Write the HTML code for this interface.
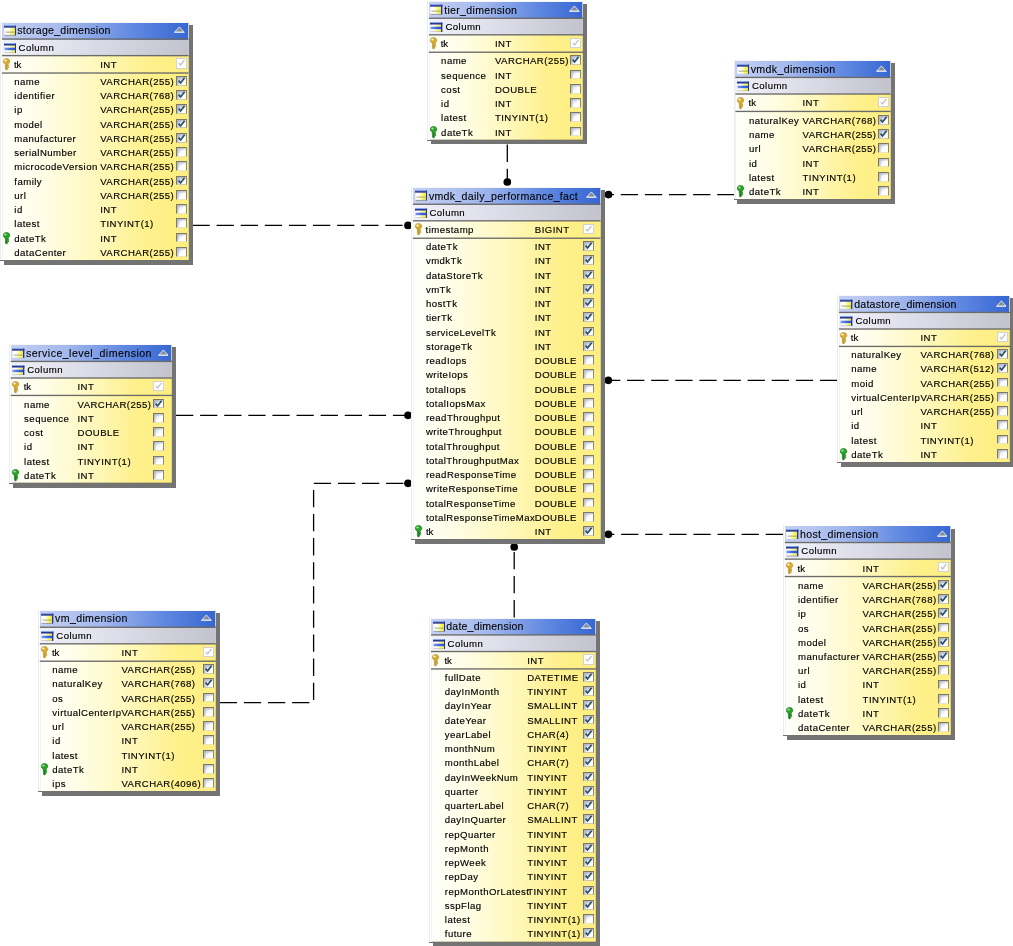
<!DOCTYPE html>
<html lang="en"><head><meta charset="utf-8"><title>vmdk_daily_performance_fact schema</title>
<style>
html,body{margin:0;padding:0;background:#fff;}
body{width:1013px;height:946px;position:relative;overflow:hidden;font-family:"Liberation Sans",sans-serif;font-size:9.6px;letter-spacing:.45px;color:#000;-webkit-text-stroke:.15px #000;}
.s{position:absolute;background:#747474}
.t{position:absolute;will-change:transform;}
.y{position:absolute;right:0;bottom:0;border-top:1px solid #f6f6fa;background:linear-gradient(to right,#fffffc 0%,#fffde6 22%,#fff8bd 50%,#fef08c 78%,#fdee80 100%);box-shadow:inset 1px 0 0 #f3f3f3,inset -1px 0 0 rgba(150,140,90,.25),inset 0 -1px 0 rgba(120,115,80,.35);}
.h,.c,.r,.p{position:absolute;left:0;right:0;white-space:nowrap;}
.h,.c{border-right:1px solid #c9c9d2}
.h{height:17px;background:linear-gradient(to right,#c5d0f2 0%,#a3b8ed 35%,#6189e1 70%,#3767d3 100%);font-size:10.6px;letter-spacing:.27px;-webkit-text-stroke:.1px #000;}
.c{height:16.4px;background:linear-gradient(to right,#f1f1fa 0%,#dddde9 45%,#c3c3cd 100%);}
.p{height:16.4px;}
svg.g{position:absolute;left:0;top:0}
.e{position:absolute;width:1px;background:#ececec}
.f{position:absolute;height:1px;background:#727270}
.r{height:14px;}
.h span,.c span,.p span,.r span{position:absolute;top:0;line-height:14px;height:14px}
.q{letter-spacing:-.05px}
.cb{position:absolute;width:9px;height:7.8px;background:linear-gradient(135deg,#b9bdcc 0%,#eceef4 38%,#fff 58%);box-shadow:inset 1.6px 1.6px 0 rgba(170,174,192,.55);border:1px solid #7d7860;border-bottom-color:#ece6c0;border-right-color:#8f8a6c;}
.cb.on{background:linear-gradient(135deg,#a6b3ca 0%,#dce4ef 45%,#fff 72%);border-bottom-color:#cfcaa8}
.cb.d{top:2.4px;height:8.4px;border-color:#d2d2d2;background:#fff;box-shadow:none}
.cb svg,.k svg,.ic svg,.tri svg{display:block}
.k{position:absolute;left:1.4px;width:8px;height:14px}
.ic{position:absolute;left:1.5px;width:13px;height:11px}
.tri{position:absolute;right:2.6px;top:3.5px;width:10.8px;height:7px}
svg.ln{position:absolute;left:0;top:0}
</style></head>
<body>
<svg class="ln" width="1013" height="946" viewBox="0 0 1013 946">
<defs><linearGradient id="gy" x1="0" x2="1" y1="0" y2="0"><stop offset="0" stop-color="#fff"/><stop offset=".38" stop-color="#fffff0"/><stop offset=".72" stop-color="#f8f65a"/><stop offset="1" stop-color="#eeea40"/></linearGradient><linearGradient id="gb" x1="0" x2="1" y1="0" y2="0"><stop offset="0" stop-color="#7d9bea"/><stop offset=".5" stop-color="#3f68dc"/><stop offset="1" stop-color="#2d55cf"/></linearGradient></defs>
<polyline points="192.5,225.4 408,225.4" fill="none" stroke="#000" stroke-width="1.3" stroke-dasharray="17.3 6.8"/>
<circle cx="408" cy="225.4" r="3.85" fill="#000"/>
<polyline points="507.3,144.6 507.3,182" fill="none" stroke="#000" stroke-width="1.3" stroke-dasharray="17.3 6.8"/>
<circle cx="507.3" cy="182" r="3.85" fill="#000"/>
<polyline points="734.5,194.6 608.5,194.6" fill="none" stroke="#000" stroke-width="1.3" stroke-dasharray="17.3 6.8"/>
<circle cx="608.5" cy="194.6" r="3.85" fill="#000"/>
<polyline points="176,415.3 408,415.3" fill="none" stroke="#000" stroke-width="1.3" stroke-dasharray="17.3 6.8"/>
<circle cx="408" cy="415.3" r="3.85" fill="#000"/>
<polyline points="219.8,702.6 313.6,702.6 313.6,483.3 408,483.3" fill="none" stroke="#000" stroke-width="1.3" stroke-dasharray="17.3 6.8"/>
<circle cx="408" cy="483.3" r="3.85" fill="#000"/>
<polyline points="837.2,380.3 608.3,380.3" fill="none" stroke="#000" stroke-width="1.3" stroke-dasharray="17.3 6.8"/>
<circle cx="608.3" cy="380.3" r="3.85" fill="#000"/>
<polyline points="783,534.3 608.4,534.3" fill="none" stroke="#000" stroke-width="1.3" stroke-dasharray="17.3 6.8"/>
<circle cx="608.4" cy="534.3" r="3.85" fill="#000"/>
<polyline points="514.2,617.4 514.2,547" fill="none" stroke="#000" stroke-width="1.3" stroke-dasharray="17.3 6.8"/>
<circle cx="514.2" cy="547" r="3.85" fill="#000"/>
</svg>
<div class="s" style="left:4px;top:25px;width:188.7px;height:239.8px"></div>
<div class="t" style="left:2px;top:22px;width:186.5px;height:238.5px">
<div class="y" style="left:0px;top:0px"></div>
<div class="e" style="left:-1.9px;top:-0.5px;height:239.3px"></div>
<div class="f" style="left:-1.9px;top:238.1px;width:188.4px"></div>
<div class="h" style="left:0px;top:0.6px"><i class="ic" style="top:2.5px;left:1.5px"><svg width="12.4" height="10.6" viewBox="0 0 12.4 10.6"><rect x="0" y="0" width="12.4" height="10.6" fill="#eef1fb"/><rect x="1" y="2.4" width="10.2" height="7.6" fill="url(#gy)"/><rect x="0" y="0" width="12.4" height="1.3" fill="#86a8ea"/><rect x="0" y="1.2" width="12.4" height="1.4" fill="#172680"/><rect x="11" y="0.6" width="1.4" height="10" fill="#26389c"/><rect x="1.6" y="6.7" width="9.2" height=".8" fill="#8e8e58"/><rect x="0.6" y="9.9" width="11.4" height=".7" fill="#74746a"/></svg></i><span style="left:15.3px;top:0.4px;letter-spacing:0.224px">storage_dimension</span><i class="tri"><svg width="10.8" height="7" viewBox="0 0 10 7" preserveAspectRatio="none"><path d="M5 0.9 L9.3 6.1 L0.7 6.1 Z" fill="#868c94" stroke="#f2f5ff" stroke-width="0.8" stroke-linejoin="miter"/><path d="M0.2 6.3 H9.8" stroke="#fff" stroke-width=".7"/></svg></i></div>
<div class="c" style="left:0px;top:17.5px"><i class="ic" style="top:3.2px;left:1.5px"><svg width="12.4" height="10.4" viewBox="0 0 12.4 10.4"><rect x="0" y="0" width="12.4" height="10.4" fill="#eef1fb"/><rect x="1" y="2.5" width="10.2" height="2.3" fill="url(#gy)"/><rect x="0.6" y="4.7" width="10.8" height="2.8" fill="url(#gb)"/><rect x="1" y="7.4" width="10.2" height="2.4" fill="url(#gy)"/><rect x="0" y="0" width="12.4" height="1.2" fill="#86a8ea"/><rect x="0" y="1.1" width="12.4" height="1.4" fill="#172680"/><rect x="11" y="0.6" width="1.4" height="9.8" fill="#26389c"/><rect x="0.6" y="9.7" width="11.4" height=".7" fill="#74746a"/></svg></i><span style="left:16.5px;top:1.5px">Column</span></div>
<div class="p" style="left:0px;top:34.1px"><i class="k" style="top:2px;left:1.4px"><svg width="7.6" height="12.6" viewBox="0 0 8 14" preserveAspectRatio="none"><path d="M3.6 0.5 C5.8 0.5 7.2 1.9 7.2 3.6 C7.2 5 6.4 6 5.4 6.5 L5.4 8 L6.4 8.7 L5.4 9.6 L6.2 10.5 L5 11.4 L4.2 13.4 L2.6 12.6 L2.4 6.6 C1 6.1 0.3 5 0.3 3.6 C0.3 1.9 1.6 0.5 3.6 0.5 Z" fill="#d9ac2e" stroke="#a8862c" stroke-width=".6"/><ellipse cx="2.6" cy="2.9" rx="1.3" ry="1.1" fill="#fff6d8"/><path d="M3.7 7 L3.7 12.4" stroke="#a8862c" stroke-width=".7" opacity=".7"/></svg></i><span class="q" style="left:11.9px;top:1.9px">tk</span><span style="left:98.2px;top:1.9px">INT</span><i class="cb d" style="left:174px"><svg width="9" height="8" viewBox="0 0 9 8"><path d="M1.8 4 L3.6 6 L7.4 1" fill="none" stroke="#c4c4cc" stroke-width="1.3"/></svg></i></div>
<div class="r" style="top:53px"><span style="left:12.3px">name</span><span style="left:98.2px">VARCHAR(255)</span><i class="cb on" style="left:174px;top:0.95px"><svg width="9" height="8" viewBox="0 0 9 8"><path d="M1.6 3.6 L3.6 6 L7.6 0.8" fill="none" stroke="#2d4f66" stroke-width="1.7"/></svg></i></div>
<div class="r" style="top:67px"><span style="left:12.3px">identifier</span><span style="left:98.2px">VARCHAR(768)</span><i class="cb on" style="left:174px;top:1.2px"><svg width="9" height="8" viewBox="0 0 9 8"><path d="M1.6 3.6 L3.6 6 L7.6 0.8" fill="none" stroke="#2d4f66" stroke-width="1.7"/></svg></i></div>
<div class="r" style="top:81px"><span style="left:12.3px">ip</span><span style="left:98.2px">VARCHAR(255)</span><i class="cb on" style="left:174px;top:1.45px"><svg width="9" height="8" viewBox="0 0 9 8"><path d="M1.6 3.6 L3.6 6 L7.6 0.8" fill="none" stroke="#2d4f66" stroke-width="1.7"/></svg></i></div>
<div class="r" style="top:96px"><span style="left:12.3px">model</span><span style="left:98.2px">VARCHAR(255)</span><i class="cb on" style="left:174px;top:0.7px"><svg width="9" height="8" viewBox="0 0 9 8"><path d="M1.6 3.6 L3.6 6 L7.6 0.8" fill="none" stroke="#2d4f66" stroke-width="1.7"/></svg></i></div>
<div class="r" style="top:110px"><span style="left:12.3px">manufacturer</span><span style="left:98.2px">VARCHAR(255)</span><i class="cb on" style="left:174px;top:0.95px"><svg width="9" height="8" viewBox="0 0 9 8"><path d="M1.6 3.6 L3.6 6 L7.6 0.8" fill="none" stroke="#2d4f66" stroke-width="1.7"/></svg></i></div>
<div class="r" style="top:124px"><span style="left:12.3px">serialNumber</span><span style="left:98.2px">VARCHAR(255)</span><i class="cb" style="left:174px;top:1.2px"></i></div>
<div class="r" style="top:138px"><span style="left:12.3px">microcodeVersion</span><span style="left:98.2px">VARCHAR(255)</span><i class="cb" style="left:174px;top:1.45px"></i></div>
<div class="r" style="top:153px"><span style="left:12.3px">family</span><span style="left:98.2px">VARCHAR(255)</span><i class="cb on" style="left:174px;top:0.7px"><svg width="9" height="8" viewBox="0 0 9 8"><path d="M1.6 3.6 L3.6 6 L7.6 0.8" fill="none" stroke="#2d4f66" stroke-width="1.7"/></svg></i></div>
<div class="r" style="top:167px"><span style="left:12.3px">url</span><span style="left:98.2px">VARCHAR(255)</span><i class="cb" style="left:174px;top:0.95px"></i></div>
<div class="r" style="top:181px"><span style="left:12.3px">id</span><span style="left:98.2px">INT</span><i class="cb" style="left:174px;top:1.2px"></i></div>
<div class="r" style="top:195px"><span style="left:12.3px">latest</span><span style="left:98.2px">TINYINT(1)</span><i class="cb" style="left:174px;top:1.45px"></i></div>
<div class="r" style="top:210px"><i class="k" style="left:1.4px;top:0px"><svg width="7.6" height="12.6" viewBox="0 0 8 14" preserveAspectRatio="none"><path d="M3.6 0.5 C5.8 0.5 7.2 1.9 7.2 3.6 C7.2 5 6.4 6 5.4 6.5 L5.4 8 L6.4 8.7 L5.4 9.6 L6.2 10.5 L5 11.4 L4.2 13.4 L2.6 12.6 L2.4 6.6 C1 6.1 0.3 5 0.3 3.6 C0.3 1.9 1.6 0.5 3.6 0.5 Z" fill="#27a527" stroke="#0a5c10" stroke-width=".6"/><ellipse cx="2.6" cy="2.9" rx="1.3" ry="1.1" fill="#9aec92"/><path d="M3.7 7 L3.7 12.4" stroke="#0a5c10" stroke-width=".7" opacity=".7"/></svg></i><span style="left:12.3px">dateTk</span><span style="left:98.2px">INT</span><i class="cb" style="left:174px;top:0.7px"></i></div>
<div class="r" style="top:224px"><span style="left:12.3px">dataCenter</span><span style="left:98.2px">VARCHAR(255)</span><i class="cb" style="left:174px;top:0.95px"></i></div>
<svg class="g" width="186.5" height="238.5"><rect x="0" y="16.35" width="186.5" height="1.35" fill="#6b6b68"/><rect x="0" y="32.95" width="186.5" height="1.35" fill="#6b6b68"/><rect x="0" y="50.35" width="186.5" height="1.35" fill="#6b6b68"/></svg>
</div>
<div class="s" style="left:430.9px;top:4.2px;width:156.5px;height:140.3px"></div>
<div class="t" style="left:428px;top:1px;width:155.2px;height:139.2px">
<div class="y" style="left:0.9px;top:0.2px"></div>
<div class="e" style="left:-1px;top:-0.3px;height:139.8px"></div>
<div class="f" style="left:-1px;top:138.8px;width:156.2px"></div>
<div class="h" style="left:0.9px;top:0.8px"><i class="ic" style="top:2.5px;left:1.5px"><svg width="12.4" height="10.6" viewBox="0 0 12.4 10.6"><rect x="0" y="0" width="12.4" height="10.6" fill="#eef1fb"/><rect x="1" y="2.4" width="10.2" height="7.6" fill="url(#gy)"/><rect x="0" y="0" width="12.4" height="1.3" fill="#86a8ea"/><rect x="0" y="1.2" width="12.4" height="1.4" fill="#172680"/><rect x="11" y="0.6" width="1.4" height="10" fill="#26389c"/><rect x="1.6" y="6.7" width="9.2" height=".8" fill="#8e8e58"/><rect x="0.6" y="9.9" width="11.4" height=".7" fill="#74746a"/></svg></i><span style="left:15.3px;top:1.2px;letter-spacing:0.3px">tier_dimension</span><i class="tri"><svg width="10.8" height="7" viewBox="0 0 10 7" preserveAspectRatio="none"><path d="M5 0.9 L9.3 6.1 L0.7 6.1 Z" fill="#868c94" stroke="#f2f5ff" stroke-width="0.8" stroke-linejoin="miter"/><path d="M0.2 6.3 H9.8" stroke="#fff" stroke-width=".7"/></svg></i></div>
<div class="c" style="left:0.9px;top:17.7px"><i class="ic" style="top:3.2px;left:1.5px"><svg width="12.4" height="10.4" viewBox="0 0 12.4 10.4"><rect x="0" y="0" width="12.4" height="10.4" fill="#eef1fb"/><rect x="1" y="2.5" width="10.2" height="2.3" fill="url(#gy)"/><rect x="0.6" y="4.7" width="10.8" height="2.8" fill="url(#gb)"/><rect x="1" y="7.4" width="10.2" height="2.4" fill="url(#gy)"/><rect x="0" y="0" width="12.4" height="1.2" fill="#86a8ea"/><rect x="0" y="1.1" width="12.4" height="1.4" fill="#172680"/><rect x="11" y="0.6" width="1.4" height="9.8" fill="#26389c"/><rect x="0.6" y="9.7" width="11.4" height=".7" fill="#74746a"/></svg></i><span style="left:16.5px;top:1.3px">Column</span></div>
<div class="p" style="left:0.9px;top:34.3px"><i class="k" style="top:2px;left:1.4px"><svg width="7.6" height="12.6" viewBox="0 0 8 14" preserveAspectRatio="none"><path d="M3.6 0.5 C5.8 0.5 7.2 1.9 7.2 3.6 C7.2 5 6.4 6 5.4 6.5 L5.4 8 L6.4 8.7 L5.4 9.6 L6.2 10.5 L5 11.4 L4.2 13.4 L2.6 12.6 L2.4 6.6 C1 6.1 0.3 5 0.3 3.6 C0.3 1.9 1.6 0.5 3.6 0.5 Z" fill="#d9ac2e" stroke="#a8862c" stroke-width=".6"/><ellipse cx="2.6" cy="2.9" rx="1.3" ry="1.1" fill="#fff6d8"/><path d="M3.7 7 L3.7 12.4" stroke="#a8862c" stroke-width=".7" opacity=".7"/></svg></i><span class="q" style="left:11.8px;top:1.7px">tk</span><span style="left:66px;top:1.7px">INT</span><i class="cb d" style="left:141.3px"><svg width="9" height="8" viewBox="0 0 9 8"><path d="M1.8 4 L3.6 6 L7.4 1" fill="none" stroke="#c4c4cc" stroke-width="1.3"/></svg></i></div>
<div class="r" style="top:53px"><span style="left:13.1px">name</span><span style="left:66.9px">VARCHAR(255)</span><i class="cb on" style="left:142.2px;top:1.4px"><svg width="9" height="8" viewBox="0 0 9 8"><path d="M1.6 3.6 L3.6 6 L7.6 0.8" fill="none" stroke="#2d4f66" stroke-width="1.7"/></svg></i></div>
<div class="r" style="top:68px"><span style="left:13.1px">sequence</span><span style="left:66.9px">INT</span><i class="cb" style="left:142.2px;top:0.65px"></i></div>
<div class="r" style="top:82px"><span style="left:13.1px">cost</span><span style="left:66.9px">DOUBLE</span><i class="cb" style="left:142.2px;top:0.9px"></i></div>
<div class="r" style="top:96px"><span style="left:13.1px">id</span><span style="left:66.9px">INT</span><i class="cb" style="left:142.2px;top:1.15px"></i></div>
<div class="r" style="top:110px"><span style="left:13.1px">latest</span><span style="left:66.9px">TINYINT(1)</span><i class="cb" style="left:142.2px;top:1.4px"></i></div>
<div class="r" style="top:125px"><i class="k" style="left:2.3px;top:-0.05px"><svg width="7.6" height="12.6" viewBox="0 0 8 14" preserveAspectRatio="none"><path d="M3.6 0.5 C5.8 0.5 7.2 1.9 7.2 3.6 C7.2 5 6.4 6 5.4 6.5 L5.4 8 L6.4 8.7 L5.4 9.6 L6.2 10.5 L5 11.4 L4.2 13.4 L2.6 12.6 L2.4 6.6 C1 6.1 0.3 5 0.3 3.6 C0.3 1.9 1.6 0.5 3.6 0.5 Z" fill="#27a527" stroke="#0a5c10" stroke-width=".6"/><ellipse cx="2.6" cy="2.9" rx="1.3" ry="1.1" fill="#9aec92"/><path d="M3.7 7 L3.7 12.4" stroke="#0a5c10" stroke-width=".7" opacity=".7"/></svg></i><span style="left:13.1px">dateTk</span><span style="left:66.9px">INT</span><i class="cb" style="left:142.2px;top:0.65px"></i></div>
<svg class="g" width="155.2" height="139.2"><rect x="0.9" y="16.55" width="154.3" height="1.35" fill="#6b6b68"/><rect x="0.9" y="33.15" width="154.3" height="1.35" fill="#6b6b68"/><rect x="0.9" y="50.55" width="154.3" height="1.35" fill="#6b6b68"/></svg>
</div>
<div class="s" style="left:737.4px;top:63.4px;width:157.4px;height:140.5px"></div>
<div class="t" style="left:735px;top:60px;width:155.6px;height:139.6px">
<div class="y" style="left:0.4px;top:0.4px"></div>
<div class="e" style="left:-1.5px;top:-0.1px;height:140px"></div>
<div class="f" style="left:-1.5px;top:139.2px;width:157.1px"></div>
<div class="h" style="left:0.4px;top:1px"><i class="ic" style="top:2.5px;left:1.5px"><svg width="12.4" height="10.6" viewBox="0 0 12.4 10.6"><rect x="0" y="0" width="12.4" height="10.6" fill="#eef1fb"/><rect x="1" y="2.4" width="10.2" height="7.6" fill="url(#gy)"/><rect x="0" y="0" width="12.4" height="1.3" fill="#86a8ea"/><rect x="0" y="1.2" width="12.4" height="1.4" fill="#172680"/><rect x="11" y="0.6" width="1.4" height="10" fill="#26389c"/><rect x="1.6" y="6.7" width="9.2" height=".8" fill="#8e8e58"/><rect x="0.6" y="9.9" width="11.4" height=".7" fill="#74746a"/></svg></i><span style="left:15.3px;top:1px;letter-spacing:0.385px">vmdk_dimension</span><i class="tri"><svg width="10.8" height="7" viewBox="0 0 10 7" preserveAspectRatio="none"><path d="M5 0.9 L9.3 6.1 L0.7 6.1 Z" fill="#868c94" stroke="#f2f5ff" stroke-width="0.8" stroke-linejoin="miter"/><path d="M0.2 6.3 H9.8" stroke="#fff" stroke-width=".7"/></svg></i></div>
<div class="c" style="left:0.4px;top:17.9px"><i class="ic" style="top:3.2px;left:1.5px"><svg width="12.4" height="10.4" viewBox="0 0 12.4 10.4"><rect x="0" y="0" width="12.4" height="10.4" fill="#eef1fb"/><rect x="1" y="2.5" width="10.2" height="2.3" fill="url(#gy)"/><rect x="0.6" y="4.7" width="10.8" height="2.8" fill="url(#gb)"/><rect x="1" y="7.4" width="10.2" height="2.4" fill="url(#gy)"/><rect x="0" y="0" width="12.4" height="1.2" fill="#86a8ea"/><rect x="0" y="1.1" width="12.4" height="1.4" fill="#172680"/><rect x="11" y="0.6" width="1.4" height="9.8" fill="#26389c"/><rect x="0.6" y="9.7" width="11.4" height=".7" fill="#74746a"/></svg></i><span style="left:16.5px;top:1.1px">Column</span></div>
<div class="p" style="left:0.4px;top:34.5px"><i class="k" style="top:2px;left:1.4px"><svg width="7.6" height="12.6" viewBox="0 0 8 14" preserveAspectRatio="none"><path d="M3.6 0.5 C5.8 0.5 7.2 1.9 7.2 3.6 C7.2 5 6.4 6 5.4 6.5 L5.4 8 L6.4 8.7 L5.4 9.6 L6.2 10.5 L5 11.4 L4.2 13.4 L2.6 12.6 L2.4 6.6 C1 6.1 0.3 5 0.3 3.6 C0.3 1.9 1.6 0.5 3.6 0.5 Z" fill="#d9ac2e" stroke="#a8862c" stroke-width=".6"/><ellipse cx="2.6" cy="2.9" rx="1.3" ry="1.1" fill="#fff6d8"/><path d="M3.7 7 L3.7 12.4" stroke="#a8862c" stroke-width=".7" opacity=".7"/></svg></i><span class="q" style="left:13.2px;top:1.5px">tk</span><span style="left:67.1px;top:1.5px">INT</span><i class="cb d" style="left:142.7px"><svg width="9" height="8" viewBox="0 0 9 8"><path d="M1.8 4 L3.6 6 L7.4 1" fill="none" stroke="#c4c4cc" stroke-width="1.3"/></svg></i></div>
<div class="r" style="top:54px"><span style="left:14px">naturalKey</span><span style="left:67.5px">VARCHAR(768)</span><i class="cb on" style="left:143.1px;top:0.8px"><svg width="9" height="8" viewBox="0 0 9 8"><path d="M1.6 3.6 L3.6 6 L7.6 0.8" fill="none" stroke="#2d4f66" stroke-width="1.7"/></svg></i></div>
<div class="r" style="top:68px"><span style="left:14px">name</span><span style="left:67.5px">VARCHAR(255)</span><i class="cb on" style="left:143.1px;top:1.05px"><svg width="9" height="8" viewBox="0 0 9 8"><path d="M1.6 3.6 L3.6 6 L7.6 0.8" fill="none" stroke="#2d4f66" stroke-width="1.7"/></svg></i></div>
<div class="r" style="top:82px"><span style="left:14px">url</span><span style="left:67.5px">VARCHAR(255)</span><i class="cb" style="left:143.1px;top:1.3px"></i></div>
<div class="r" style="top:97px"><span style="left:14px">id</span><span style="left:67.5px">INT</span><i class="cb" style="left:143.1px;top:0.55px"></i></div>
<div class="r" style="top:111px"><span style="left:14px">latest</span><span style="left:67.5px">TINYINT(1)</span><i class="cb" style="left:143.1px;top:0.8px"></i></div>
<div class="r" style="top:125px"><i class="k" style="left:1.8px;top:0.35px"><svg width="7.6" height="12.6" viewBox="0 0 8 14" preserveAspectRatio="none"><path d="M3.6 0.5 C5.8 0.5 7.2 1.9 7.2 3.6 C7.2 5 6.4 6 5.4 6.5 L5.4 8 L6.4 8.7 L5.4 9.6 L6.2 10.5 L5 11.4 L4.2 13.4 L2.6 12.6 L2.4 6.6 C1 6.1 0.3 5 0.3 3.6 C0.3 1.9 1.6 0.5 3.6 0.5 Z" fill="#27a527" stroke="#0a5c10" stroke-width=".6"/><ellipse cx="2.6" cy="2.9" rx="1.3" ry="1.1" fill="#9aec92"/><path d="M3.7 7 L3.7 12.4" stroke="#0a5c10" stroke-width=".7" opacity=".7"/></svg></i><span style="left:14px">dateTk</span><span style="left:67.5px">INT</span><i class="cb" style="left:143.1px;top:1.05px"></i></div>
<svg class="g" width="155.6" height="139.6"><rect x="0.4" y="16.75" width="155.2" height="1.35" fill="#6b6b68"/><rect x="0.4" y="33.35" width="155.2" height="1.35" fill="#6b6b68"/><rect x="0.4" y="50.75" width="155.2" height="1.35" fill="#6b6b68"/></svg>
</div>
<div class="s" style="left:414.9px;top:190.2px;width:189.8px;height:353.7px"></div>
<div class="t" style="left:412px;top:187px;width:188.5px;height:352.6px">
<div class="y" style="left:0.9px;top:0.2px"></div>
<div class="e" style="left:-1px;top:-0.3px;height:353.2px"></div>
<div class="f" style="left:-1px;top:352.2px;width:189.5px"></div>
<div class="h" style="left:0.9px;top:0.8px"><i class="ic" style="top:2.5px;left:2.2px"><svg width="12.4" height="10.6" viewBox="0 0 12.4 10.6"><rect x="0" y="0" width="12.4" height="10.6" fill="#eef1fb"/><rect x="1" y="2.4" width="10.2" height="7.6" fill="url(#gy)"/><rect x="0" y="0" width="12.4" height="1.3" fill="#86a8ea"/><rect x="0" y="1.2" width="12.4" height="1.4" fill="#172680"/><rect x="11" y="0.6" width="1.4" height="10" fill="#26389c"/><rect x="1.6" y="6.7" width="9.2" height=".8" fill="#8e8e58"/><rect x="0.6" y="9.9" width="11.4" height=".7" fill="#74746a"/></svg></i><span style="left:16px;top:1.2px;letter-spacing:0.291px">vmdk_daily_performance_fact</span><i class="tri"><svg width="10.8" height="7" viewBox="0 0 10 7" preserveAspectRatio="none"><path d="M5 0.9 L9.3 6.1 L0.7 6.1 Z" fill="#868c94" stroke="#f2f5ff" stroke-width="0.8" stroke-linejoin="miter"/><path d="M0.2 6.3 H9.8" stroke="#fff" stroke-width=".7"/></svg></i></div>
<div class="c" style="left:0.9px;top:17.7px"><i class="ic" style="top:3.2px;left:2.2px"><svg width="12.4" height="10.4" viewBox="0 0 12.4 10.4"><rect x="0" y="0" width="12.4" height="10.4" fill="#eef1fb"/><rect x="1" y="2.5" width="10.2" height="2.3" fill="url(#gy)"/><rect x="0.6" y="4.7" width="10.8" height="2.8" fill="url(#gb)"/><rect x="1" y="7.4" width="10.2" height="2.4" fill="url(#gy)"/><rect x="0" y="0" width="12.4" height="1.2" fill="#86a8ea"/><rect x="0" y="1.1" width="12.4" height="1.4" fill="#172680"/><rect x="11" y="0.6" width="1.4" height="9.8" fill="#26389c"/><rect x="0.6" y="9.7" width="11.4" height=".7" fill="#74746a"/></svg></i><span style="left:16.5px;top:1.3px">Column</span></div>
<div class="p" style="left:0.9px;top:34.3px"><i class="k" style="top:2px;left:2.1px"><svg width="7.6" height="12.6" viewBox="0 0 8 14" preserveAspectRatio="none"><path d="M3.6 0.5 C5.8 0.5 7.2 1.9 7.2 3.6 C7.2 5 6.4 6 5.4 6.5 L5.4 8 L6.4 8.7 L5.4 9.6 L6.2 10.5 L5 11.4 L4.2 13.4 L2.6 12.6 L2.4 6.6 C1 6.1 0.3 5 0.3 3.6 C0.3 1.9 1.6 0.5 3.6 0.5 Z" fill="#d9ac2e" stroke="#a8862c" stroke-width=".6"/><ellipse cx="2.6" cy="2.9" rx="1.3" ry="1.1" fill="#fff6d8"/><path d="M3.7 7 L3.7 12.4" stroke="#a8862c" stroke-width=".7" opacity=".7"/></svg></i><span style="left:12.7px;top:1.7px">timestamp</span><span style="left:121.9px;top:1.7px">BIGINT</span><i class="cb d" style="left:170.2px"><svg width="9" height="8" viewBox="0 0 9 8"><path d="M1.8 4 L3.6 6 L7.4 1" fill="none" stroke="#c4c4cc" stroke-width="1.3"/></svg></i></div>
<div class="r" style="top:53px"><span style="left:13.9px">dateTk</span><span style="left:122.8px">INT</span><i class="cb on" style="left:171.1px;top:1.05px"><svg width="9" height="8" viewBox="0 0 9 8"><path d="M1.6 3.6 L3.6 6 L7.6 0.8" fill="none" stroke="#2d4f66" stroke-width="1.7"/></svg></i></div>
<div class="r" style="top:67px"><span style="left:13.9px">vmdkTk</span><span style="left:122.8px">INT</span><i class="cb on" style="left:171.1px;top:1.3px"><svg width="9" height="8" viewBox="0 0 9 8"><path d="M1.6 3.6 L3.6 6 L7.6 0.8" fill="none" stroke="#2d4f66" stroke-width="1.7"/></svg></i></div>
<div class="r" style="top:82px"><span style="left:13.9px">dataStoreTk</span><span style="left:122.8px">INT</span><i class="cb on" style="left:171.1px;top:0.55px"><svg width="9" height="8" viewBox="0 0 9 8"><path d="M1.6 3.6 L3.6 6 L7.6 0.8" fill="none" stroke="#2d4f66" stroke-width="1.7"/></svg></i></div>
<div class="r" style="top:96px"><span style="left:13.9px">vmTk</span><span style="left:122.8px">INT</span><i class="cb on" style="left:171.1px;top:0.8px"><svg width="9" height="8" viewBox="0 0 9 8"><path d="M1.6 3.6 L3.6 6 L7.6 0.8" fill="none" stroke="#2d4f66" stroke-width="1.7"/></svg></i></div>
<div class="r" style="top:110px"><span style="left:13.9px">hostTk</span><span style="left:122.8px">INT</span><i class="cb on" style="left:171.1px;top:1.05px"><svg width="9" height="8" viewBox="0 0 9 8"><path d="M1.6 3.6 L3.6 6 L7.6 0.8" fill="none" stroke="#2d4f66" stroke-width="1.7"/></svg></i></div>
<div class="r" style="top:124px"><span style="left:13.9px">tierTk</span><span style="left:122.8px">INT</span><i class="cb on" style="left:171.1px;top:1.3px"><svg width="9" height="8" viewBox="0 0 9 8"><path d="M1.6 3.6 L3.6 6 L7.6 0.8" fill="none" stroke="#2d4f66" stroke-width="1.7"/></svg></i></div>
<div class="r" style="top:139px"><span style="left:13.9px">serviceLevelTk</span><span style="left:122.8px">INT</span><i class="cb on" style="left:171.1px;top:0.55px"><svg width="9" height="8" viewBox="0 0 9 8"><path d="M1.6 3.6 L3.6 6 L7.6 0.8" fill="none" stroke="#2d4f66" stroke-width="1.7"/></svg></i></div>
<div class="r" style="top:153px"><span style="left:13.9px">storageTk</span><span style="left:122.8px">INT</span><i class="cb on" style="left:171.1px;top:0.8px"><svg width="9" height="8" viewBox="0 0 9 8"><path d="M1.6 3.6 L3.6 6 L7.6 0.8" fill="none" stroke="#2d4f66" stroke-width="1.7"/></svg></i></div>
<div class="r" style="top:167px"><span style="left:13.9px">readIops</span><span style="left:122.8px">DOUBLE</span><i class="cb" style="left:171.1px;top:1.05px"></i></div>
<div class="r" style="top:181px"><span style="left:13.9px">writeIops</span><span style="left:122.8px">DOUBLE</span><i class="cb" style="left:171.1px;top:1.3px"></i></div>
<div class="r" style="top:196px"><span style="left:13.9px">totalIops</span><span style="left:122.8px">DOUBLE</span><i class="cb" style="left:171.1px;top:0.55px"></i></div>
<div class="r" style="top:210px"><span style="left:13.9px">totalIopsMax</span><span style="left:122.8px">DOUBLE</span><i class="cb" style="left:171.1px;top:0.8px"></i></div>
<div class="r" style="top:224px"><span style="left:13.9px">readThroughput</span><span style="left:122.8px">DOUBLE</span><i class="cb" style="left:171.1px;top:1.05px"></i></div>
<div class="r" style="top:238px"><span style="left:13.9px">writeThroughput</span><span style="left:122.8px">DOUBLE</span><i class="cb" style="left:171.1px;top:1.3px"></i></div>
<div class="r" style="top:253px"><span style="left:13.9px">totalThroughput</span><span style="left:122.8px">DOUBLE</span><i class="cb" style="left:171.1px;top:0.55px"></i></div>
<div class="r" style="top:267px"><span style="left:13.9px">totalThroughputMax</span><span style="left:122.8px">DOUBLE</span><i class="cb" style="left:171.1px;top:0.8px"></i></div>
<div class="r" style="top:281px"><span style="left:13.9px">readResponseTime</span><span style="left:122.8px">DOUBLE</span><i class="cb" style="left:171.1px;top:1.05px"></i></div>
<div class="r" style="top:295px"><span style="left:13.9px">writeResponseTime</span><span style="left:122.8px">DOUBLE</span><i class="cb" style="left:171.1px;top:1.3px"></i></div>
<div class="r" style="top:310px"><span style="left:13.9px">totalResponseTime</span><span style="left:122.8px">DOUBLE</span><i class="cb" style="left:171.1px;top:0.55px"></i></div>
<div class="r" style="top:324px"><span style="left:13.9px">totalResponseTimeMax</span><span style="left:122.8px">DOUBLE</span><i class="cb" style="left:171.1px;top:0.8px"></i></div>
<div class="r" style="top:338px"><i class="k" style="left:3px;top:0.35px"><svg width="7.6" height="12.6" viewBox="0 0 8 14" preserveAspectRatio="none"><path d="M3.6 0.5 C5.8 0.5 7.2 1.9 7.2 3.6 C7.2 5 6.4 6 5.4 6.5 L5.4 8 L6.4 8.7 L5.4 9.6 L6.2 10.5 L5 11.4 L4.2 13.4 L2.6 12.6 L2.4 6.6 C1 6.1 0.3 5 0.3 3.6 C0.3 1.9 1.6 0.5 3.6 0.5 Z" fill="#27a527" stroke="#0a5c10" stroke-width=".6"/><ellipse cx="2.6" cy="2.9" rx="1.3" ry="1.1" fill="#9aec92"/><path d="M3.7 7 L3.7 12.4" stroke="#0a5c10" stroke-width=".7" opacity=".7"/></svg></i><span class="q" style="left:13.9px">tk</span><span style="left:122.8px">INT</span><i class="cb on" style="left:171.1px;top:1.05px"><svg width="9" height="8" viewBox="0 0 9 8"><path d="M1.6 3.6 L3.6 6 L7.6 0.8" fill="none" stroke="#2d4f66" stroke-width="1.7"/></svg></i></div>
<svg class="g" width="188.5" height="352.6"><rect x="0.9" y="16.55" width="187.6" height="1.35" fill="#6b6b68"/><rect x="0.9" y="33.15" width="187.6" height="1.35" fill="#6b6b68"/><rect x="0.9" y="50.55" width="187.6" height="1.35" fill="#6b6b68"/></svg>
</div>
<div class="s" style="left:12.7px;top:347.4px;width:163.5px;height:140.3px"></div>
<div class="t" style="left:10px;top:344px;width:162px;height:139.4px">
<div class="y" style="left:0.7px;top:0.4px"></div>
<div class="e" style="left:-1.2px;top:-0.1px;height:139.8px"></div>
<div class="f" style="left:-1.2px;top:139px;width:163.2px"></div>
<div class="h" style="left:0.7px;top:1px"><i class="ic" style="top:2.5px;left:1.5px"><svg width="12.4" height="10.6" viewBox="0 0 12.4 10.6"><rect x="0" y="0" width="12.4" height="10.6" fill="#eef1fb"/><rect x="1" y="2.4" width="10.2" height="7.6" fill="url(#gy)"/><rect x="0" y="0" width="12.4" height="1.3" fill="#86a8ea"/><rect x="0" y="1.2" width="12.4" height="1.4" fill="#172680"/><rect x="11" y="0.6" width="1.4" height="10" fill="#26389c"/><rect x="1.6" y="6.7" width="9.2" height=".8" fill="#8e8e58"/><rect x="0.6" y="9.9" width="11.4" height=".7" fill="#74746a"/></svg></i><span style="left:15.3px;top:1px;letter-spacing:0.458px">service_level_dimension</span><i class="tri"><svg width="10.8" height="7" viewBox="0 0 10 7" preserveAspectRatio="none"><path d="M5 0.9 L9.3 6.1 L0.7 6.1 Z" fill="#868c94" stroke="#f2f5ff" stroke-width="0.8" stroke-linejoin="miter"/><path d="M0.2 6.3 H9.8" stroke="#fff" stroke-width=".7"/></svg></i></div>
<div class="c" style="left:0.7px;top:17.9px"><i class="ic" style="top:3.2px;left:1.5px"><svg width="12.4" height="10.4" viewBox="0 0 12.4 10.4"><rect x="0" y="0" width="12.4" height="10.4" fill="#eef1fb"/><rect x="1" y="2.5" width="10.2" height="2.3" fill="url(#gy)"/><rect x="0.6" y="4.7" width="10.8" height="2.8" fill="url(#gb)"/><rect x="1" y="7.4" width="10.2" height="2.4" fill="url(#gy)"/><rect x="0" y="0" width="12.4" height="1.2" fill="#86a8ea"/><rect x="0" y="1.1" width="12.4" height="1.4" fill="#172680"/><rect x="11" y="0.6" width="1.4" height="9.8" fill="#26389c"/><rect x="0.6" y="9.7" width="11.4" height=".7" fill="#74746a"/></svg></i><span style="left:16.5px;top:1.1px">Column</span></div>
<div class="p" style="left:0.7px;top:34.5px"><i class="k" style="top:2px;left:1.4px"><svg width="7.6" height="12.6" viewBox="0 0 8 14" preserveAspectRatio="none"><path d="M3.6 0.5 C5.8 0.5 7.2 1.9 7.2 3.6 C7.2 5 6.4 6 5.4 6.5 L5.4 8 L6.4 8.7 L5.4 9.6 L6.2 10.5 L5 11.4 L4.2 13.4 L2.6 12.6 L2.4 6.6 C1 6.1 0.3 5 0.3 3.6 C0.3 1.9 1.6 0.5 3.6 0.5 Z" fill="#d9ac2e" stroke="#a8862c" stroke-width=".6"/><ellipse cx="2.6" cy="2.9" rx="1.3" ry="1.1" fill="#fff6d8"/><path d="M3.7 7 L3.7 12.4" stroke="#a8862c" stroke-width=".7" opacity=".7"/></svg></i><span class="q" style="left:13px;top:1.5px">tk</span><span style="left:66.8px;top:1.5px">INT</span><i class="cb d" style="left:142.4px"><svg width="9" height="8" viewBox="0 0 9 8"><path d="M1.8 4 L3.6 6 L7.4 1" fill="none" stroke="#c4c4cc" stroke-width="1.3"/></svg></i></div>
<div class="r" style="top:54px"><span style="left:14.1px">name</span><span style="left:67.5px">VARCHAR(255)</span><i class="cb on" style="left:143.1px;top:0.6px"><svg width="9" height="8" viewBox="0 0 9 8"><path d="M1.6 3.6 L3.6 6 L7.6 0.8" fill="none" stroke="#2d4f66" stroke-width="1.7"/></svg></i></div>
<div class="r" style="top:68px"><span style="left:14.1px">sequence</span><span style="left:67.5px">INT</span><i class="cb" style="left:143.1px;top:0.85px"></i></div>
<div class="r" style="top:82px"><span style="left:14.1px">cost</span><span style="left:67.5px">DOUBLE</span><i class="cb" style="left:143.1px;top:1.1px"></i></div>
<div class="r" style="top:96px"><span style="left:14.1px">id</span><span style="left:67.5px">INT</span><i class="cb" style="left:143.1px;top:1.35px"></i></div>
<div class="r" style="top:111px"><span style="left:14.1px">latest</span><span style="left:67.5px">TINYINT(1)</span><i class="cb" style="left:143.1px;top:0.6px"></i></div>
<div class="r" style="top:125px"><i class="k" style="left:2.1px;top:0.15px"><svg width="7.6" height="12.6" viewBox="0 0 8 14" preserveAspectRatio="none"><path d="M3.6 0.5 C5.8 0.5 7.2 1.9 7.2 3.6 C7.2 5 6.4 6 5.4 6.5 L5.4 8 L6.4 8.7 L5.4 9.6 L6.2 10.5 L5 11.4 L4.2 13.4 L2.6 12.6 L2.4 6.6 C1 6.1 0.3 5 0.3 3.6 C0.3 1.9 1.6 0.5 3.6 0.5 Z" fill="#27a527" stroke="#0a5c10" stroke-width=".6"/><ellipse cx="2.6" cy="2.9" rx="1.3" ry="1.1" fill="#9aec92"/><path d="M3.7 7 L3.7 12.4" stroke="#0a5c10" stroke-width=".7" opacity=".7"/></svg></i><span style="left:14.1px">dateTk</span><span style="left:67.5px">INT</span><i class="cb" style="left:143.1px;top:0.85px"></i></div>
<svg class="g" width="162" height="139.4"><rect x="0.7" y="16.75" width="161.3" height="1.35" fill="#6b6b68"/><rect x="0.7" y="33.35" width="161.3" height="1.35" fill="#6b6b68"/><rect x="0.7" y="50.75" width="161.3" height="1.35" fill="#6b6b68"/></svg>
</div>
<div class="s" style="left:41.8px;top:613.2px;width:178.2px;height:182.8px"></div>
<div class="t" style="left:39px;top:610px;width:176.8px;height:181.7px">
<div class="y" style="left:0.8px;top:0.2px"></div>
<div class="e" style="left:-1.1px;top:-0.3px;height:182.3px"></div>
<div class="f" style="left:-1.1px;top:181.3px;width:177.9px"></div>
<div class="h" style="left:0.8px;top:0.8px"><i class="ic" style="top:2.5px;left:1.5px"><svg width="12.4" height="10.6" viewBox="0 0 12.4 10.6"><rect x="0" y="0" width="12.4" height="10.6" fill="#eef1fb"/><rect x="1" y="2.4" width="10.2" height="7.6" fill="url(#gy)"/><rect x="0" y="0" width="12.4" height="1.3" fill="#86a8ea"/><rect x="0" y="1.2" width="12.4" height="1.4" fill="#172680"/><rect x="11" y="0.6" width="1.4" height="10" fill="#26389c"/><rect x="1.6" y="6.7" width="9.2" height=".8" fill="#8e8e58"/><rect x="0.6" y="9.9" width="11.4" height=".7" fill="#74746a"/></svg></i><span style="left:15.3px;top:0.2px;letter-spacing:0.353px">vm_dimension</span><i class="tri"><svg width="10.8" height="7" viewBox="0 0 10 7" preserveAspectRatio="none"><path d="M5 0.9 L9.3 6.1 L0.7 6.1 Z" fill="#868c94" stroke="#f2f5ff" stroke-width="0.8" stroke-linejoin="miter"/><path d="M0.2 6.3 H9.8" stroke="#fff" stroke-width=".7"/></svg></i></div>
<div class="c" style="left:0.8px;top:17.7px"><i class="ic" style="top:3.2px;left:1.5px"><svg width="12.4" height="10.4" viewBox="0 0 12.4 10.4"><rect x="0" y="0" width="12.4" height="10.4" fill="#eef1fb"/><rect x="1" y="2.5" width="10.2" height="2.3" fill="url(#gy)"/><rect x="0.6" y="4.7" width="10.8" height="2.8" fill="url(#gb)"/><rect x="1" y="7.4" width="10.2" height="2.4" fill="url(#gy)"/><rect x="0" y="0" width="12.4" height="1.2" fill="#86a8ea"/><rect x="0" y="1.1" width="12.4" height="1.4" fill="#172680"/><rect x="11" y="0.6" width="1.4" height="9.8" fill="#26389c"/><rect x="0.6" y="9.7" width="11.4" height=".7" fill="#74746a"/></svg></i><span style="left:16.5px;top:1.3px">Column</span></div>
<div class="p" style="left:0.8px;top:34.3px"><i class="k" style="top:2px;left:1.4px"><svg width="7.6" height="12.6" viewBox="0 0 8 14" preserveAspectRatio="none"><path d="M3.6 0.5 C5.8 0.5 7.2 1.9 7.2 3.6 C7.2 5 6.4 6 5.4 6.5 L5.4 8 L6.4 8.7 L5.4 9.6 L6.2 10.5 L5 11.4 L4.2 13.4 L2.6 12.6 L2.4 6.6 C1 6.1 0.3 5 0.3 3.6 C0.3 1.9 1.6 0.5 3.6 0.5 Z" fill="#d9ac2e" stroke="#a8862c" stroke-width=".6"/><ellipse cx="2.6" cy="2.9" rx="1.3" ry="1.1" fill="#fff6d8"/><path d="M3.7 7 L3.7 12.4" stroke="#a8862c" stroke-width=".7" opacity=".7"/></svg></i><span class="q" style="left:12.1px;top:1.7px">tk</span><span style="left:81.6px;top:1.7px">INT</span><i class="cb d" style="left:162.9px"><svg width="9" height="8" viewBox="0 0 9 8"><path d="M1.8 4 L3.6 6 L7.4 1" fill="none" stroke="#c4c4cc" stroke-width="1.3"/></svg></i></div>
<div class="r" style="top:53px"><span style="left:13.3px">name</span><span style="left:82.4px">VARCHAR(255)</span><i class="cb on" style="left:163.7px;top:1.15px"><svg width="9" height="8" viewBox="0 0 9 8"><path d="M1.6 3.6 L3.6 6 L7.6 0.8" fill="none" stroke="#2d4f66" stroke-width="1.7"/></svg></i></div>
<div class="r" style="top:67px"><span style="left:13.3px">naturalKey</span><span style="left:82.4px">VARCHAR(768)</span><i class="cb on" style="left:163.7px;top:1.4px"><svg width="9" height="8" viewBox="0 0 9 8"><path d="M1.6 3.6 L3.6 6 L7.6 0.8" fill="none" stroke="#2d4f66" stroke-width="1.7"/></svg></i></div>
<div class="r" style="top:82px"><span style="left:13.3px">os</span><span style="left:82.4px">VARCHAR(255)</span><i class="cb" style="left:163.7px;top:0.65px"></i></div>
<div class="r" style="top:96px"><span style="left:13.3px">virtualCenterIp</span><span style="left:82.4px">VARCHAR(255)</span><i class="cb" style="left:163.7px;top:0.9px"></i></div>
<div class="r" style="top:110px"><span style="left:13.3px">url</span><span style="left:82.4px">VARCHAR(255)</span><i class="cb" style="left:163.7px;top:1.15px"></i></div>
<div class="r" style="top:124px"><span style="left:13.3px">id</span><span style="left:82.4px">INT</span><i class="cb" style="left:163.7px;top:1.4px"></i></div>
<div class="r" style="top:139px"><span style="left:13.3px">latest</span><span style="left:82.4px">TINYINT(1)</span><i class="cb" style="left:163.7px;top:0.65px"></i></div>
<div class="r" style="top:153px"><i class="k" style="left:2.2px;top:0.2px"><svg width="7.6" height="12.6" viewBox="0 0 8 14" preserveAspectRatio="none"><path d="M3.6 0.5 C5.8 0.5 7.2 1.9 7.2 3.6 C7.2 5 6.4 6 5.4 6.5 L5.4 8 L6.4 8.7 L5.4 9.6 L6.2 10.5 L5 11.4 L4.2 13.4 L2.6 12.6 L2.4 6.6 C1 6.1 0.3 5 0.3 3.6 C0.3 1.9 1.6 0.5 3.6 0.5 Z" fill="#27a527" stroke="#0a5c10" stroke-width=".6"/><ellipse cx="2.6" cy="2.9" rx="1.3" ry="1.1" fill="#9aec92"/><path d="M3.7 7 L3.7 12.4" stroke="#0a5c10" stroke-width=".7" opacity=".7"/></svg></i><span style="left:13.3px">dateTk</span><span style="left:82.4px">INT</span><i class="cb" style="left:163.7px;top:0.9px"></i></div>
<div class="r" style="top:167px"><span style="left:13.3px">ips</span><span style="left:82.4px">VARCHAR(4096)</span><i class="cb" style="left:163.7px;top:1.15px"></i></div>
<svg class="g" width="176.8" height="181.7"><rect x="0.8" y="16.55" width="176" height="1.35" fill="#6b6b68"/><rect x="0.8" y="33.15" width="176" height="1.35" fill="#6b6b68"/><rect x="0.8" y="50.55" width="176" height="1.35" fill="#6b6b68"/></svg>
</div>
<div class="s" style="left:433px;top:620.9px;width:167px;height:325.3px"></div>
<div class="t" style="left:431px;top:617px;width:164.8px;height:324.9px">
<div class="y" style="left:0px;top:0.9px"></div>
<div class="e" style="left:-1.9px;top:0.4px;height:324.8px"></div>
<div class="f" style="left:-1.9px;top:324.5px;width:166.7px"></div>
<div class="h" style="left:0px;top:1.5px"><i class="ic" style="top:2.5px;left:1.5px"><svg width="12.4" height="10.6" viewBox="0 0 12.4 10.6"><rect x="0" y="0" width="12.4" height="10.6" fill="#eef1fb"/><rect x="1" y="2.4" width="10.2" height="7.6" fill="url(#gy)"/><rect x="0" y="0" width="12.4" height="1.3" fill="#86a8ea"/><rect x="0" y="1.2" width="12.4" height="1.4" fill="#172680"/><rect x="11" y="0.6" width="1.4" height="10" fill="#26389c"/><rect x="1.6" y="6.7" width="9.2" height=".8" fill="#8e8e58"/><rect x="0.6" y="9.9" width="11.4" height=".7" fill="#74746a"/></svg></i><span style="left:15.3px;top:0.5px;letter-spacing:0.176px">date_dimension</span><i class="tri"><svg width="10.8" height="7" viewBox="0 0 10 7" preserveAspectRatio="none"><path d="M5 0.9 L9.3 6.1 L0.7 6.1 Z" fill="#868c94" stroke="#f2f5ff" stroke-width="0.8" stroke-linejoin="miter"/><path d="M0.2 6.3 H9.8" stroke="#fff" stroke-width=".7"/></svg></i></div>
<div class="c" style="left:0px;top:18.4px"><i class="ic" style="top:3.2px;left:1.5px"><svg width="12.4" height="10.4" viewBox="0 0 12.4 10.4"><rect x="0" y="0" width="12.4" height="10.4" fill="#eef1fb"/><rect x="1" y="2.5" width="10.2" height="2.3" fill="url(#gy)"/><rect x="0.6" y="4.7" width="10.8" height="2.8" fill="url(#gb)"/><rect x="1" y="7.4" width="10.2" height="2.4" fill="url(#gy)"/><rect x="0" y="0" width="12.4" height="1.2" fill="#86a8ea"/><rect x="0" y="1.1" width="12.4" height="1.4" fill="#172680"/><rect x="11" y="0.6" width="1.4" height="9.8" fill="#26389c"/><rect x="0.6" y="9.7" width="11.4" height=".7" fill="#74746a"/></svg></i><span style="left:16.5px;top:1.6px">Column</span></div>
<div class="p" style="left:0px;top:35px"><i class="k" style="top:2px;left:1.4px"><svg width="7.6" height="12.6" viewBox="0 0 8 14" preserveAspectRatio="none"><path d="M3.6 0.5 C5.8 0.5 7.2 1.9 7.2 3.6 C7.2 5 6.4 6 5.4 6.5 L5.4 8 L6.4 8.7 L5.4 9.6 L6.2 10.5 L5 11.4 L4.2 13.4 L2.6 12.6 L2.4 6.6 C1 6.1 0.3 5 0.3 3.6 C0.3 1.9 1.6 0.5 3.6 0.5 Z" fill="#d9ac2e" stroke="#a8862c" stroke-width=".6"/><ellipse cx="2.6" cy="2.9" rx="1.3" ry="1.1" fill="#fff6d8"/><path d="M3.7 7 L3.7 12.4" stroke="#a8862c" stroke-width=".7" opacity=".7"/></svg></i><span class="q" style="left:13.4px;top:2px">tk</span><span style="left:96.2px;top:2px">INT</span><i class="cb d" style="left:152.1px"><svg width="9" height="8" viewBox="0 0 9 8"><path d="M1.8 4 L3.6 6 L7.4 1" fill="none" stroke="#c4c4cc" stroke-width="1.3"/></svg></i></div>
<div class="r" style="top:54px"><span style="left:13.8px">fullDate</span><span style="left:96.2px">DATETIME</span><i class="cb on" style="left:152.1px;top:0.85px"><svg width="9" height="8" viewBox="0 0 9 8"><path d="M1.6 3.6 L3.6 6 L7.6 0.8" fill="none" stroke="#2d4f66" stroke-width="1.7"/></svg></i></div>
<div class="r" style="top:68px"><span style="left:13.8px">dayInMonth</span><span style="left:96.2px">TINYINT</span><i class="cb on" style="left:152.1px;top:1.1px"><svg width="9" height="8" viewBox="0 0 9 8"><path d="M1.6 3.6 L3.6 6 L7.6 0.8" fill="none" stroke="#2d4f66" stroke-width="1.7"/></svg></i></div>
<div class="r" style="top:82px"><span style="left:13.8px">dayInYear</span><span style="left:96.2px">SMALLINT</span><i class="cb on" style="left:152.1px;top:1.35px"><svg width="9" height="8" viewBox="0 0 9 8"><path d="M1.6 3.6 L3.6 6 L7.6 0.8" fill="none" stroke="#2d4f66" stroke-width="1.7"/></svg></i></div>
<div class="r" style="top:97px"><span style="left:13.8px">dateYear</span><span style="left:96.2px">SMALLINT</span><i class="cb on" style="left:152.1px;top:0.6px"><svg width="9" height="8" viewBox="0 0 9 8"><path d="M1.6 3.6 L3.6 6 L7.6 0.8" fill="none" stroke="#2d4f66" stroke-width="1.7"/></svg></i></div>
<div class="r" style="top:111px"><span style="left:13.8px">yearLabel</span><span style="left:96.2px">CHAR(4)</span><i class="cb on" style="left:152.1px;top:0.85px"><svg width="9" height="8" viewBox="0 0 9 8"><path d="M1.6 3.6 L3.6 6 L7.6 0.8" fill="none" stroke="#2d4f66" stroke-width="1.7"/></svg></i></div>
<div class="r" style="top:125px"><span style="left:13.8px">monthNum</span><span style="left:96.2px">TINYINT</span><i class="cb on" style="left:152.1px;top:1.1px"><svg width="9" height="8" viewBox="0 0 9 8"><path d="M1.6 3.6 L3.6 6 L7.6 0.8" fill="none" stroke="#2d4f66" stroke-width="1.7"/></svg></i></div>
<div class="r" style="top:139px"><span style="left:13.8px">monthLabel</span><span style="left:96.2px">CHAR(7)</span><i class="cb on" style="left:152.1px;top:1.35px"><svg width="9" height="8" viewBox="0 0 9 8"><path d="M1.6 3.6 L3.6 6 L7.6 0.8" fill="none" stroke="#2d4f66" stroke-width="1.7"/></svg></i></div>
<div class="r" style="top:154px"><span style="left:13.8px">dayInWeekNum</span><span style="left:96.2px">TINYINT</span><i class="cb on" style="left:152.1px;top:0.6px"><svg width="9" height="8" viewBox="0 0 9 8"><path d="M1.6 3.6 L3.6 6 L7.6 0.8" fill="none" stroke="#2d4f66" stroke-width="1.7"/></svg></i></div>
<div class="r" style="top:168px"><span style="left:13.8px">quarter</span><span style="left:96.2px">TINYINT</span><i class="cb on" style="left:152.1px;top:0.85px"><svg width="9" height="8" viewBox="0 0 9 8"><path d="M1.6 3.6 L3.6 6 L7.6 0.8" fill="none" stroke="#2d4f66" stroke-width="1.7"/></svg></i></div>
<div class="r" style="top:182px"><span style="left:13.8px">quarterLabel</span><span style="left:96.2px">CHAR(7)</span><i class="cb on" style="left:152.1px;top:1.1px"><svg width="9" height="8" viewBox="0 0 9 8"><path d="M1.6 3.6 L3.6 6 L7.6 0.8" fill="none" stroke="#2d4f66" stroke-width="1.7"/></svg></i></div>
<div class="r" style="top:196px"><span style="left:13.8px">dayInQuarter</span><span style="left:96.2px">SMALLINT</span><i class="cb on" style="left:152.1px;top:1.35px"><svg width="9" height="8" viewBox="0 0 9 8"><path d="M1.6 3.6 L3.6 6 L7.6 0.8" fill="none" stroke="#2d4f66" stroke-width="1.7"/></svg></i></div>
<div class="r" style="top:211px"><span style="left:13.8px">repQuarter</span><span style="left:96.2px">TINYINT</span><i class="cb on" style="left:152.1px;top:0.6px"><svg width="9" height="8" viewBox="0 0 9 8"><path d="M1.6 3.6 L3.6 6 L7.6 0.8" fill="none" stroke="#2d4f66" stroke-width="1.7"/></svg></i></div>
<div class="r" style="top:225px"><span style="left:13.8px">repMonth</span><span style="left:96.2px">TINYINT</span><i class="cb on" style="left:152.1px;top:0.85px"><svg width="9" height="8" viewBox="0 0 9 8"><path d="M1.6 3.6 L3.6 6 L7.6 0.8" fill="none" stroke="#2d4f66" stroke-width="1.7"/></svg></i></div>
<div class="r" style="top:239px"><span style="left:13.8px">repWeek</span><span style="left:96.2px">TINYINT</span><i class="cb on" style="left:152.1px;top:1.1px"><svg width="9" height="8" viewBox="0 0 9 8"><path d="M1.6 3.6 L3.6 6 L7.6 0.8" fill="none" stroke="#2d4f66" stroke-width="1.7"/></svg></i></div>
<div class="r" style="top:253px"><span style="left:13.8px">repDay</span><span style="left:96.2px">TINYINT</span><i class="cb on" style="left:152.1px;top:1.35px"><svg width="9" height="8" viewBox="0 0 9 8"><path d="M1.6 3.6 L3.6 6 L7.6 0.8" fill="none" stroke="#2d4f66" stroke-width="1.7"/></svg></i></div>
<div class="r" style="top:268px"><span style="left:13.8px">repMonthOrLatest</span><span style="left:96.2px">TINYINT</span><i class="cb on" style="left:152.1px;top:0.6px"><svg width="9" height="8" viewBox="0 0 9 8"><path d="M1.6 3.6 L3.6 6 L7.6 0.8" fill="none" stroke="#2d4f66" stroke-width="1.7"/></svg></i></div>
<div class="r" style="top:282px"><span style="left:13.8px">sspFlag</span><span style="left:96.2px">TINYINT</span><i class="cb on" style="left:152.1px;top:0.85px"><svg width="9" height="8" viewBox="0 0 9 8"><path d="M1.6 3.6 L3.6 6 L7.6 0.8" fill="none" stroke="#2d4f66" stroke-width="1.7"/></svg></i></div>
<div class="r" style="top:296px"><span style="left:13.8px">latest</span><span style="left:96.2px">TINYINT(1)</span><i class="cb" style="left:152.1px;top:1.1px"></i></div>
<div class="r" style="top:310px"><span style="left:13.8px">future</span><span style="left:96.2px">TINYINT(1)</span><i class="cb on" style="left:152.1px;top:1.35px"><svg width="9" height="8" viewBox="0 0 9 8"><path d="M1.6 3.6 L3.6 6 L7.6 0.8" fill="none" stroke="#2d4f66" stroke-width="1.7"/></svg></i></div>
<svg class="g" width="164.8" height="324.9"><rect x="0" y="17.25" width="164.8" height="1.35" fill="#6b6b68"/><rect x="0" y="33.85" width="164.8" height="1.35" fill="#6b6b68"/><rect x="0" y="51.25" width="164.8" height="1.35" fill="#6b6b68"/></svg>
</div>
<div class="s" style="left:840.9px;top:298.4px;width:173.3px;height:168.4px"></div>
<div class="t" style="left:838px;top:295px;width:172px;height:167.5px">
<div class="y" style="left:0.9px;top:0.4px"></div>
<div class="e" style="left:-1px;top:-0.1px;height:167.9px"></div>
<div class="f" style="left:-1px;top:167.1px;width:173px"></div>
<div class="h" style="left:0.9px;top:1px"><i class="ic" style="top:2.5px;left:1.5px"><svg width="12.4" height="10.6" viewBox="0 0 12.4 10.6"><rect x="0" y="0" width="12.4" height="10.6" fill="#eef1fb"/><rect x="1" y="2.4" width="10.2" height="7.6" fill="url(#gy)"/><rect x="0" y="0" width="12.4" height="1.3" fill="#86a8ea"/><rect x="0" y="1.2" width="12.4" height="1.4" fill="#172680"/><rect x="11" y="0.6" width="1.4" height="10" fill="#26389c"/><rect x="1.6" y="6.7" width="9.2" height=".8" fill="#8e8e58"/><rect x="0.6" y="9.9" width="11.4" height=".7" fill="#74746a"/></svg></i><span style="left:15.3px;top:1px;letter-spacing:0.219px">datastore_dimension</span><i class="tri"><svg width="10.8" height="7" viewBox="0 0 10 7" preserveAspectRatio="none"><path d="M5 0.9 L9.3 6.1 L0.7 6.1 Z" fill="#868c94" stroke="#f2f5ff" stroke-width="0.8" stroke-linejoin="miter"/><path d="M0.2 6.3 H9.8" stroke="#fff" stroke-width=".7"/></svg></i></div>
<div class="c" style="left:0.9px;top:17.9px"><i class="ic" style="top:3.2px;left:1.5px"><svg width="12.4" height="10.4" viewBox="0 0 12.4 10.4"><rect x="0" y="0" width="12.4" height="10.4" fill="#eef1fb"/><rect x="1" y="2.5" width="10.2" height="2.3" fill="url(#gy)"/><rect x="0.6" y="4.7" width="10.8" height="2.8" fill="url(#gb)"/><rect x="1" y="7.4" width="10.2" height="2.4" fill="url(#gy)"/><rect x="0" y="0" width="12.4" height="1.2" fill="#86a8ea"/><rect x="0" y="1.1" width="12.4" height="1.4" fill="#172680"/><rect x="11" y="0.6" width="1.4" height="9.8" fill="#26389c"/><rect x="0.6" y="9.7" width="11.4" height=".7" fill="#74746a"/></svg></i><span style="left:16.5px;top:1.1px">Column</span></div>
<div class="p" style="left:0.9px;top:34.5px"><i class="k" style="top:2px;left:1.4px"><svg width="7.6" height="12.6" viewBox="0 0 8 14" preserveAspectRatio="none"><path d="M3.6 0.5 C5.8 0.5 7.2 1.9 7.2 3.6 C7.2 5 6.4 6 5.4 6.5 L5.4 8 L6.4 8.7 L5.4 9.6 L6.2 10.5 L5 11.4 L4.2 13.4 L2.6 12.6 L2.4 6.6 C1 6.1 0.3 5 0.3 3.6 C0.3 1.9 1.6 0.5 3.6 0.5 Z" fill="#d9ac2e" stroke="#a8862c" stroke-width=".6"/><ellipse cx="2.6" cy="2.9" rx="1.3" ry="1.1" fill="#fff6d8"/><path d="M3.7 7 L3.7 12.4" stroke="#a8862c" stroke-width=".7" opacity=".7"/></svg></i><span class="q" style="left:11.9px;top:1.5px">tk</span><span style="left:81.5px;top:1.5px">INT</span><i class="cb d" style="left:157.7px"><svg width="9" height="8" viewBox="0 0 9 8"><path d="M1.8 4 L3.6 6 L7.4 1" fill="none" stroke="#c4c4cc" stroke-width="1.3"/></svg></i></div>
<div class="r" style="top:53px"><span style="left:13.2px">naturalKey</span><span style="left:82.4px">VARCHAR(768)</span><i class="cb on" style="left:158.6px;top:1.2px"><svg width="9" height="8" viewBox="0 0 9 8"><path d="M1.6 3.6 L3.6 6 L7.6 0.8" fill="none" stroke="#2d4f66" stroke-width="1.7"/></svg></i></div>
<div class="r" style="top:67px"><span style="left:13.2px">name</span><span style="left:82.4px">VARCHAR(512)</span><i class="cb on" style="left:158.6px;top:1.45px"><svg width="9" height="8" viewBox="0 0 9 8"><path d="M1.6 3.6 L3.6 6 L7.6 0.8" fill="none" stroke="#2d4f66" stroke-width="1.7"/></svg></i></div>
<div class="r" style="top:82px"><span style="left:13.2px">moid</span><span style="left:82.4px">VARCHAR(255)</span><i class="cb" style="left:158.6px;top:0.7px"></i></div>
<div class="r" style="top:96px"><span style="left:13.2px">virtualCenterIp</span><span style="left:82.4px">VARCHAR(255)</span><i class="cb" style="left:158.6px;top:0.95px"></i></div>
<div class="r" style="top:110px"><span style="left:13.2px">url</span><span style="left:82.4px">VARCHAR(255)</span><i class="cb" style="left:158.6px;top:1.2px"></i></div>
<div class="r" style="top:124px"><span style="left:13.2px">id</span><span style="left:82.4px">INT</span><i class="cb" style="left:158.6px;top:1.45px"></i></div>
<div class="r" style="top:139px"><span style="left:13.2px">latest</span><span style="left:82.4px">TINYINT(1)</span><i class="cb" style="left:158.6px;top:0.7px"></i></div>
<div class="r" style="top:153px"><i class="k" style="left:2.3px;top:0.25px"><svg width="7.6" height="12.6" viewBox="0 0 8 14" preserveAspectRatio="none"><path d="M3.6 0.5 C5.8 0.5 7.2 1.9 7.2 3.6 C7.2 5 6.4 6 5.4 6.5 L5.4 8 L6.4 8.7 L5.4 9.6 L6.2 10.5 L5 11.4 L4.2 13.4 L2.6 12.6 L2.4 6.6 C1 6.1 0.3 5 0.3 3.6 C0.3 1.9 1.6 0.5 3.6 0.5 Z" fill="#27a527" stroke="#0a5c10" stroke-width=".6"/><ellipse cx="2.6" cy="2.9" rx="1.3" ry="1.1" fill="#9aec92"/><path d="M3.7 7 L3.7 12.4" stroke="#0a5c10" stroke-width=".7" opacity=".7"/></svg></i><span style="left:13.2px">dateTk</span><span style="left:82.4px">INT</span><i class="cb" style="left:158.6px;top:0.95px"></i></div>
<svg class="g" width="172" height="167.5"><rect x="0.9" y="16.75" width="171.1" height="1.35" fill="#6b6b68"/><rect x="0.9" y="33.35" width="171.1" height="1.35" fill="#6b6b68"/><rect x="0.9" y="50.75" width="171.1" height="1.35" fill="#6b6b68"/></svg>
</div>
<div class="s" style="left:786.8px;top:528.5px;width:168.3px;height:211.6px"></div>
<div class="t" style="left:784px;top:525px;width:166.9px;height:210.8px">
<div class="y" style="left:0.8px;top:0.5px"></div>
<div class="e" style="left:-1.1px;top:0px;height:211.1px"></div>
<div class="f" style="left:-1.1px;top:210.4px;width:168px"></div>
<div class="h" style="left:0.8px;top:1.1px"><i class="ic" style="top:2.5px;left:1.5px"><svg width="12.4" height="10.6" viewBox="0 0 12.4 10.6"><rect x="0" y="0" width="12.4" height="10.6" fill="#eef1fb"/><rect x="1" y="2.4" width="10.2" height="7.6" fill="url(#gy)"/><rect x="0" y="0" width="12.4" height="1.3" fill="#86a8ea"/><rect x="0" y="1.2" width="12.4" height="1.4" fill="#172680"/><rect x="11" y="0.6" width="1.4" height="10" fill="#26389c"/><rect x="1.6" y="6.7" width="9.2" height=".8" fill="#8e8e58"/><rect x="0.6" y="9.9" width="11.4" height=".7" fill="#74746a"/></svg></i><span style="left:15.3px;top:0.9px;letter-spacing:0.3px">host_dimension</span><i class="tri"><svg width="10.8" height="7" viewBox="0 0 10 7" preserveAspectRatio="none"><path d="M5 0.9 L9.3 6.1 L0.7 6.1 Z" fill="#868c94" stroke="#f2f5ff" stroke-width="0.8" stroke-linejoin="miter"/><path d="M0.2 6.3 H9.8" stroke="#fff" stroke-width=".7"/></svg></i></div>
<div class="c" style="left:0.8px;top:18px"><i class="ic" style="top:3.2px;left:1.5px"><svg width="12.4" height="10.4" viewBox="0 0 12.4 10.4"><rect x="0" y="0" width="12.4" height="10.4" fill="#eef1fb"/><rect x="1" y="2.5" width="10.2" height="2.3" fill="url(#gy)"/><rect x="0.6" y="4.7" width="10.8" height="2.8" fill="url(#gb)"/><rect x="1" y="7.4" width="10.2" height="2.4" fill="url(#gy)"/><rect x="0" y="0" width="12.4" height="1.2" fill="#86a8ea"/><rect x="0" y="1.1" width="12.4" height="1.4" fill="#172680"/><rect x="11" y="0.6" width="1.4" height="9.8" fill="#26389c"/><rect x="0.6" y="9.7" width="11.4" height=".7" fill="#74746a"/></svg></i><span style="left:16.5px;top:1px">Column</span></div>
<div class="p" style="left:0.8px;top:34.6px"><i class="k" style="top:2px;left:1.4px"><svg width="7.6" height="12.6" viewBox="0 0 8 14" preserveAspectRatio="none"><path d="M3.6 0.5 C5.8 0.5 7.2 1.9 7.2 3.6 C7.2 5 6.4 6 5.4 6.5 L5.4 8 L6.4 8.7 L5.4 9.6 L6.2 10.5 L5 11.4 L4.2 13.4 L2.6 12.6 L2.4 6.6 C1 6.1 0.3 5 0.3 3.6 C0.3 1.9 1.6 0.5 3.6 0.5 Z" fill="#d9ac2e" stroke="#a8862c" stroke-width=".6"/><ellipse cx="2.6" cy="2.9" rx="1.3" ry="1.1" fill="#fff6d8"/><path d="M3.7 7 L3.7 12.4" stroke="#a8862c" stroke-width=".7" opacity=".7"/></svg></i><span class="q" style="left:12.8px;top:2.4px">tk</span><span style="left:77.8px;top:2.4px">INT</span><i class="cb d" style="left:153.3px"><svg width="9" height="8" viewBox="0 0 9 8"><path d="M1.8 4 L3.6 6 L7.4 1" fill="none" stroke="#c4c4cc" stroke-width="1.3"/></svg></i></div>
<div class="r" style="top:54px"><span style="left:14px">name</span><span style="left:78.6px">VARCHAR(255)</span><i class="cb on" style="left:154.1px;top:0.75px"><svg width="9" height="8" viewBox="0 0 9 8"><path d="M1.6 3.6 L3.6 6 L7.6 0.8" fill="none" stroke="#2d4f66" stroke-width="1.7"/></svg></i></div>
<div class="r" style="top:68px"><span style="left:14px">identifier</span><span style="left:78.6px">VARCHAR(768)</span><i class="cb on" style="left:154.1px;top:1px"><svg width="9" height="8" viewBox="0 0 9 8"><path d="M1.6 3.6 L3.6 6 L7.6 0.8" fill="none" stroke="#2d4f66" stroke-width="1.7"/></svg></i></div>
<div class="r" style="top:82px"><span style="left:14px">ip</span><span style="left:78.6px">VARCHAR(255)</span><i class="cb on" style="left:154.1px;top:1.25px"><svg width="9" height="8" viewBox="0 0 9 8"><path d="M1.6 3.6 L3.6 6 L7.6 0.8" fill="none" stroke="#2d4f66" stroke-width="1.7"/></svg></i></div>
<div class="r" style="top:97px"><span style="left:14px">os</span><span style="left:78.6px">VARCHAR(255)</span><i class="cb" style="left:154.1px;top:0.5px"></i></div>
<div class="r" style="top:111px"><span style="left:14px">model</span><span style="left:78.6px">VARCHAR(255)</span><i class="cb on" style="left:154.1px;top:0.75px"><svg width="9" height="8" viewBox="0 0 9 8"><path d="M1.6 3.6 L3.6 6 L7.6 0.8" fill="none" stroke="#2d4f66" stroke-width="1.7"/></svg></i></div>
<div class="r" style="top:125px"><span style="left:14px">manufacturer</span><span style="left:78.6px">VARCHAR(255)</span><i class="cb on" style="left:154.1px;top:1px"><svg width="9" height="8" viewBox="0 0 9 8"><path d="M1.6 3.6 L3.6 6 L7.6 0.8" fill="none" stroke="#2d4f66" stroke-width="1.7"/></svg></i></div>
<div class="r" style="top:139px"><span style="left:14px">url</span><span style="left:78.6px">VARCHAR(255)</span><i class="cb" style="left:154.1px;top:1.25px"></i></div>
<div class="r" style="top:153px"><span style="left:14px">id</span><span style="left:78.6px">INT</span><i class="cb" style="left:154.1px;top:1.5px"></i></div>
<div class="r" style="top:168px"><span style="left:14px">latest</span><span style="left:78.6px">TINYINT(1)</span><i class="cb" style="left:154.1px;top:0.75px"></i></div>
<div class="r" style="top:182px"><i class="k" style="left:2.2px;top:0.3px"><svg width="7.6" height="12.6" viewBox="0 0 8 14" preserveAspectRatio="none"><path d="M3.6 0.5 C5.8 0.5 7.2 1.9 7.2 3.6 C7.2 5 6.4 6 5.4 6.5 L5.4 8 L6.4 8.7 L5.4 9.6 L6.2 10.5 L5 11.4 L4.2 13.4 L2.6 12.6 L2.4 6.6 C1 6.1 0.3 5 0.3 3.6 C0.3 1.9 1.6 0.5 3.6 0.5 Z" fill="#27a527" stroke="#0a5c10" stroke-width=".6"/><ellipse cx="2.6" cy="2.9" rx="1.3" ry="1.1" fill="#9aec92"/><path d="M3.7 7 L3.7 12.4" stroke="#0a5c10" stroke-width=".7" opacity=".7"/></svg></i><span style="left:14px">dateTk</span><span style="left:78.6px">INT</span><i class="cb" style="left:154.1px;top:1px"></i></div>
<div class="r" style="top:196px"><span style="left:14px">dataCenter</span><span style="left:78.6px">VARCHAR(255)</span><i class="cb" style="left:154.1px;top:1.25px"></i></div>
<svg class="g" width="166.9" height="210.8"><rect x="0.8" y="16.85" width="166.1" height="1.35" fill="#6b6b68"/><rect x="0.8" y="33.45" width="166.1" height="1.35" fill="#6b6b68"/><rect x="0.8" y="50.85" width="166.1" height="1.35" fill="#6b6b68"/></svg>
</div>
</body></html>
